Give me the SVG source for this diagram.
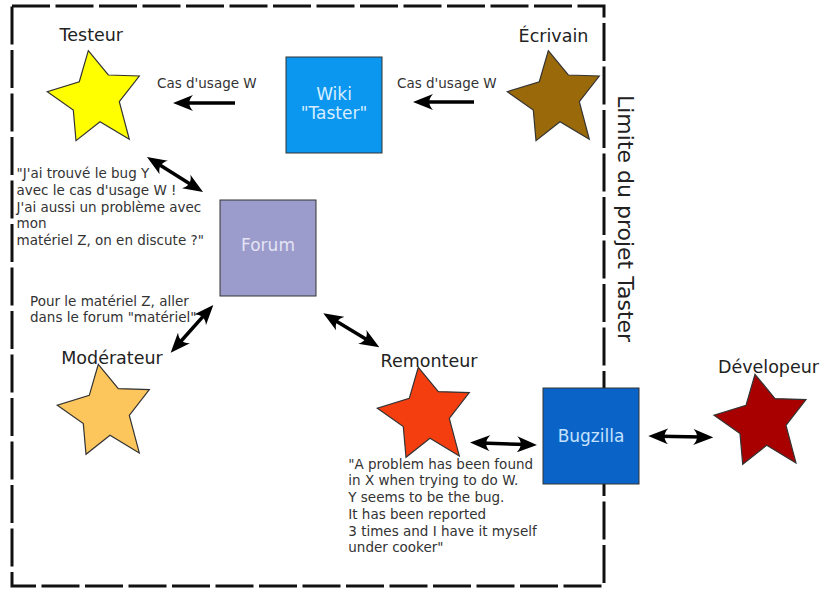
<svg xmlns="http://www.w3.org/2000/svg" xmlns:xlink="http://www.w3.org/1999/xlink" width="828" height="589" viewBox="0 0 828 589">
<style>
text{font-family:"DejaVu Sans","Liberation Sans",sans-serif}
.lbl{font-size:17.5px;fill:#222;text-anchor:middle}
.q{font-size:13.5px;fill:#333}
.box{stroke:#333;stroke-width:1}
.bt{font-size:17px;text-anchor:middle}
.star{stroke:#333;stroke-width:1.2;stroke-linejoin:miter}
.arr{stroke:#000;stroke-width:3.5;fill:none;marker-end:url(#ah)}
.arr2{stroke:#000;stroke-width:3.5;fill:none;marker-start:url(#ah);marker-end:url(#ah)}
</style>
<defs>
<marker id="ah" viewBox="0 0 20 16" refX="9" refY="8" markerWidth="20" markerHeight="16" markerUnits="userSpaceOnUse" orient="auto-start-reverse">
<path d="M20,8 L0,0 C5,5 5,11 0,16 Z" fill="#000"/>
</marker>
<path id="starShape" d="M0,0 L20,24.3 L51,25.3 L31,51 L41,88.6 L11.7,71 L-12.3,90 L-15,59.3 L-41,41 L-9,31 Z"/>
</defs>
<rect width="828" height="589" fill="#fff"/>
<g id="boundary">
<rect x="12" y="6" width="592" height="580" fill="none" stroke="#111" stroke-width="3" stroke-dasharray="38 5.5"/>
<text transform="translate(618,95) rotate(90)" style="font-size:22px;fill:#222">Limite du projet Taster</text>
</g>
<g id="connectors">
<line class="arr" x1="235" y1="103" x2="184" y2="103"/>
<line class="arr" x1="474" y1="102" x2="424" y2="102"/>
<line class="arr2" x1="156.3" y1="162.8" x2="193.7" y2="186.2"/>
<line class="arr2" x1="206" y1="313.2" x2="178" y2="344.5"/>
<line class="arr2" x1="332.7" y1="319" x2="369.9" y2="341.6"/>
<line class="arr2" x1="481" y1="442.9" x2="526" y2="444.6"/>
<line class="arr2" x1="659.3" y1="436.2" x2="702.3" y2="437.1"/>
<text class="q" x="157" y="88">Cas d'usage W</text>
<text class="q" x="397" y="88">Cas d'usage W</text>
</g>
<g id="testeur">
<use xlink:href="#starShape" href="#starShape" class="star" fill="#ffff00" transform="translate(88.3,50.7)"/>
<text class="lbl" x="91.3" y="41">Testeur</text>
<text class="q" x="16.5"><tspan x="16.5" y="178">"J'ai trouvé le bug Y</tspan><tspan x="16.5" y="194.75">avec le cas d'usage W !</tspan><tspan x="16.5" y="211.5">J'ai aussi un problème avec</tspan><tspan x="16.5" y="228.25">mon</tspan><tspan x="16.5" y="245">matériel Z, on en discute ?"</tspan></text>
</g>
<g id="ecrivain">
<use xlink:href="#starShape" href="#starShape" class="star" fill="#9a6a0a" transform="translate(548.3,50.7)"/>
<text class="lbl" x="553.5" y="41.5">Écrivain</text>
</g>
<g id="wiki">
<rect class="box" x="286" y="57" width="96" height="96" fill="#0b96f0"/>
<text class="bt" x="334" y="99.7" fill="#d8eeff">Wiki</text>
<text class="bt" x="334" y="118.5" fill="#d8eeff">"Taster"</text>
</g>
<g id="forum">
<rect class="box" x="220" y="200" width="96" height="96" fill="#9b9bcc"/>
<text class="bt" x="268" y="250.7" fill="#e4e4f4">Forum</text>
</g>
<g id="moderateur">
<use xlink:href="#starShape" href="#starShape" class="star" fill="#fcc65c" transform="translate(98.3,364.3)"/>
<text class="lbl" x="112" y="364">Modérateur</text>
<text class="q"><tspan x="30" y="305.5">Pour le matériel Z, aller</tspan><tspan x="30" y="322.3">dans le forum "matériel"</tspan></text>
</g>
<g id="remonteur">
<use xlink:href="#starShape" href="#starShape" class="star" fill="#f43e10" transform="translate(418.3,367.3)"/>
<text class="lbl" x="429" y="366.5">Remonteur</text>
<text class="q"><tspan x="348.3" y="468.5">"A problem has been found</tspan><tspan x="348.3" y="485.25">in X when trying to do W.</tspan><tspan x="348.3" y="502">Y seems to be the bug.</tspan><tspan x="348.3" y="518.75">It has been reported</tspan><tspan x="348.3" y="535.5">3 times and I have it myself</tspan><tspan x="348.3" y="552.25">under cooker"</tspan></text>
</g>
<g id="bugzilla">
<rect class="box" x="543" y="388" width="96" height="96" fill="#0a64c8"/>
<text class="bt" x="591" y="441.7" fill="#c4e2ff">Bugzilla</text>
</g>
<g id="developpeur">
<use xlink:href="#starShape" href="#starShape" class="star" fill="#a80000" transform="translate(755,374.3)"/>
<text class="lbl" x="768.5" y="373.3">Dévelopeur</text>
</g>
</svg>
